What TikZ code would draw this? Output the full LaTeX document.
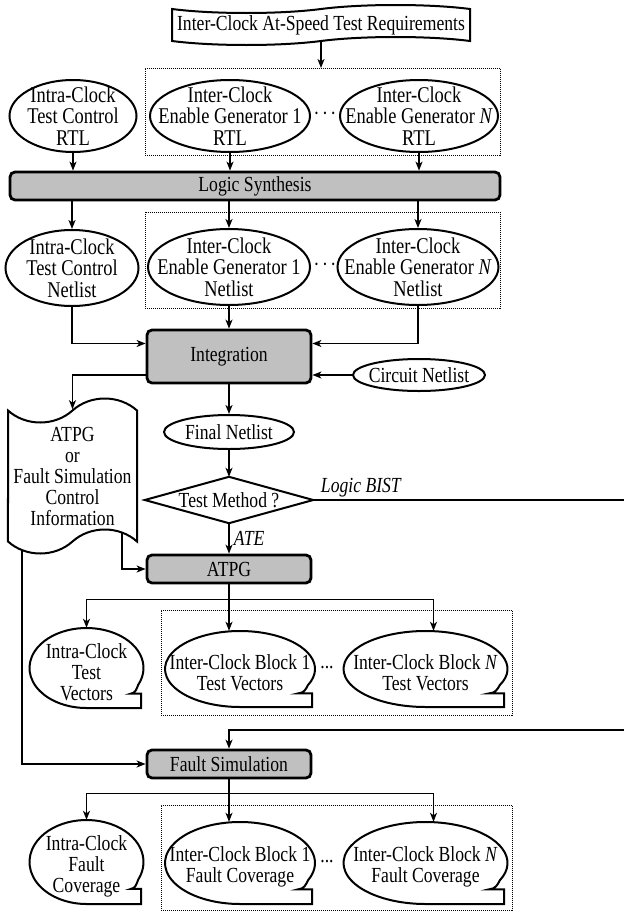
\documentclass[tikz,border=0pt]{standalone}
\usepackage{fontspec}
\setmainfont{Liberation Serif}[FakeStretch=0.82]
\usetikzlibrary{shapes.geometric,shapes.symbols,arrows.meta,calc,backgrounds}

\definecolor{boxgray}{HTML}{C0C0C0}

\tikzset{
  txt/.style={font=\fontsize{21.5}{21}\selectfont, align=center, inner sep=0pt},
  bigtxt/.style={font=\fontsize{22.5}{21.5}\selectfont, align=center, inner sep=0pt},
  ovalshape/.style={ellipse, draw, line width=2pt, fill=white, inner sep=0pt},
  proc/.style={txt, rectangle, rounded corners=5pt, draw, line width=2.8pt, fill=boxgray},
  grp/.style={draw, line width=0.8pt, dash pattern=on 1pt off 1pt, inner sep=0pt, anchor=north west},
  tapebox/.style={tape, draw, line width=2pt, fill=white, inner sep=0pt},
  wire/.style={line width=1.5pt},
  arr/.style={wire, -{Stealth[length=9pt,width=7pt,inset=2.5pt]}},
  lbl/.style={font=\fontsize{21.5}{21}\selectfont\itshape, inner sep=1pt},
}

% ellipse drawn at a fixed size, with its text set separately
\newcommand\ovalnode[6][txt]{% [text style] name, position, width, height, text
  \node[ovalshape, minimum width=#4, minimum height=#5] (#2) at (#3) {};
  \node[#1] at (#2.center) {#6};
}

% ellipse with a squared-off corner at its lower right
\newcommand\bubblenode[6]{% name, cx, cy, rx, ry, text
  \draw[line width=2pt, fill=white]
    ($(#2,#3)+(25:#4 and #5)$)
    arc[start angle=25, end angle=-270, x radius=#4, y radius=#5]
    -- ++({0.96*#4},0) -- ++(0,{-0.36*#5}) -- ++({-0.18*#4},0)
    .. controls +({0.07*#4},{-0.01*#5}) and +({-0.03*#4},{0.12*#5}) ..
    ($(#2,#3)+(25:#4 and #5)$) -- cycle;
  \node[ellipse, inner sep=0pt, minimum width={2*#4}, minimum height={2*#5}] (#1) at (#2,#3) {};
  \node[txt] at ([yshift=-4pt]#1.center) {#6};
}

\begin{document}
\begin{tikzpicture}[x=1pt, y=-1pt]
\useasboundingbox (0,0) rectangle (624,913);

% ---- requirements and RTL sources ----
\node[tapebox, minimum width=298pt, minimum height=40pt, tape bend height=8pt] (req) at (321,25) {};
\node[txt] at (req.center) {Inter-Clock At-Speed Test Requirements};

\node[grp, minimum width=355pt, minimum height=87pt] (g1) at (145,68) {};
\ovalnode[bigtxt]{r1a}{73,116}{127pt}{72pt}{Intra-Clock\\Test Control\\RTL}
\ovalnode[bigtxt]{r1b}{230,116}{160pt}{72pt}{Inter-Clock\\Enable Generator 1\\RTL}
\ovalnode[bigtxt]{r1c}{419,116}{158pt}{72pt}{Inter-Clock\\Enable Generator \textit{N}\\RTL}
\node[txt] (d1) at (325,116) {·\hspace{2.5pt}·\hspace{2.5pt}·};

\node[proc, minimum width=490pt, minimum height=28pt] (ls) at (255,186) {Logic Synthesis};

% ---- netlists ----
\node[grp, minimum width=355pt, minimum height=96pt] (g2) at (145,212) {};
\ovalnode[bigtxt]{n2a}{72,268}{133pt}{76pt}{Intra-Clock\\Test Control\\Netlist}
\ovalnode[bigtxt]{n2b}{229,267}{162pt}{76pt}{Inter-Clock\\Enable Generator 1\\Netlist}
\ovalnode[bigtxt]{n2c}{418,267}{161pt}{76pt}{Inter-Clock\\Enable Generator \textit{N}\\Netlist}
\node[txt] (d2) at (325,267) {·\hspace{2.5pt}·\hspace{2.5pt}·};

\node[proc, minimum width=164pt, minimum height=53pt] (int) at (229,356.5) {Integration};
\ovalnode{circ}{419,375}{132pt}{32pt}{Circuit Netlist}

% ---- control information ----
\node[tapebox, minimum width=129pt, minimum height=155pt, tape bend height=24pt] (doc) at (72.5,476) {};
\node[txt] at (doc.center) {ATPG\\or\\Fault Simulation\\Control\\Information};

\ovalnode{fin}{229,432}{130pt}{34pt}{Final Netlist}

% ---- decision ----
\node[rectangle, inner sep=0pt, minimum width=168pt, minimum height=46pt] (dia) at (229,500) {};
\draw[line width=2pt, fill=white] (dia.north) -- (dia.east) -- (dia.south) -- (dia.west) -- cycle;
\node[txt] at (dia.center) {Test Method ?};

\node[proc, minimum width=164pt, minimum height=28pt] (atpg) at (229,569) {ATPG};

% ---- test vectors ----
\node[grp, minimum width=351pt, minimum height=105pt] (g3) at (161,610) {};
\bubblenode{tv1}{86.5}{668}{57}{40}{Intra-Clock\\Test\\Vectors}
\bubblenode{tv2}{240}{669}{75}{38}{Inter-Clock Block 1\\Test Vectors}
\bubblenode{tv3}{425.5}{669}{82}{38}{Inter-Clock Block \textit{N}\\Test Vectors}
\node[txt] (d3) at (327,668) {...};

\node[proc, minimum width=164pt, minimum height=28pt] (fs) at (229,764) {Fault Simulation};

% ---- fault coverage ----
\node[grp, minimum width=351pt, minimum height=105pt] (g4) at (161,805) {};
\bubblenode{fc1}{86.5}{862}{57}{42}{Intra-Clock\\Fault\\Coverage}
\bubblenode{fc2}{240}{863}{75}{41}{Inter-Clock Block 1\\Fault Coverage}
\bubblenode{fc3}{425.5}{863}{82}{41}{Inter-Clock Block \textit{N}\\Fault Coverage}
\node[txt] (d4) at (327,862) {...};

% ---- connectors ----
\coordinate (rim) at (624,730);
\coordinate (xa) at (122,0);
\coordinate (xb) at (22,0);
\coordinate (j1) at ($(atpg.south)+(0,15)$);
\coordinate (j2) at ($(fs.south)+(0,14)$);

\begin{scope}[on background layer]
  \draw[arr] (req.south) -- (req.south |- g1.north);
  \draw[arr] (r1a.south) -- (r1a.south |- ls.north);
  \draw[arr] (r1b.south) -- (r1b.south |- ls.north);
  \draw[arr] (r1c.south) -- (r1c.south |- ls.north);

  \draw[arr] (ls.south -| n2a.north) -- (n2a.north);
  \draw[arr] (ls.south -| n2b.north) -- (n2b.north);
  \draw[arr] (ls.south -| n2c.north) -- (n2c.north);

  \draw[arr] (n2a.south) |- ([yshift=13pt]int.west);
  \draw[arr] (n2b.south) -- (int.north);
  \draw[arr] (n2c.south) |- ([yshift=13pt]int.east);
  \draw[arr] (circ.west) -- (circ.west -| int.east);
  \draw[arr] (circ.west -| int.west) -| (doc.north);

  \draw[arr] (int.south) -- (fin.north);
  \draw[arr] (fin.south) -- (dia.north);
  \draw[wire] (dia.east) -- (dia.east -| rim)
    node[lbl, pos=0, anchor=south west, xshift=6pt, yshift=1pt] {Logic BIST};
  \draw[arr] (rim) -| (fs.north);
  \draw[arr] (dia.south) -- (atpg.north)
    node[lbl, midway, anchor=west, xshift=3pt] {ATE};

  \draw[arr] (doc.center -| xa) |- (atpg.west);
  \draw[arr] (doc.center -| xb) |- (fs.west);

  \draw[wire] (atpg.south) -- (j1);
  \draw[arr] (j1) -| (tv1.north);
  \draw[arr] (j1) -- (j1 |- tv2.north);
  \draw[arr] (j1) -| ([xshift=8pt]tv3.north);

  \draw[wire] (fs.south) -- (j2);
  \draw[arr] (j2) -| (fc1.north);
  \draw[arr] (j2) -- (j2 |- fc2.north);
  \draw[arr] (j2) -| ([xshift=8pt]fc3.north);
\end{scope}
\end{tikzpicture}
\end{document}
